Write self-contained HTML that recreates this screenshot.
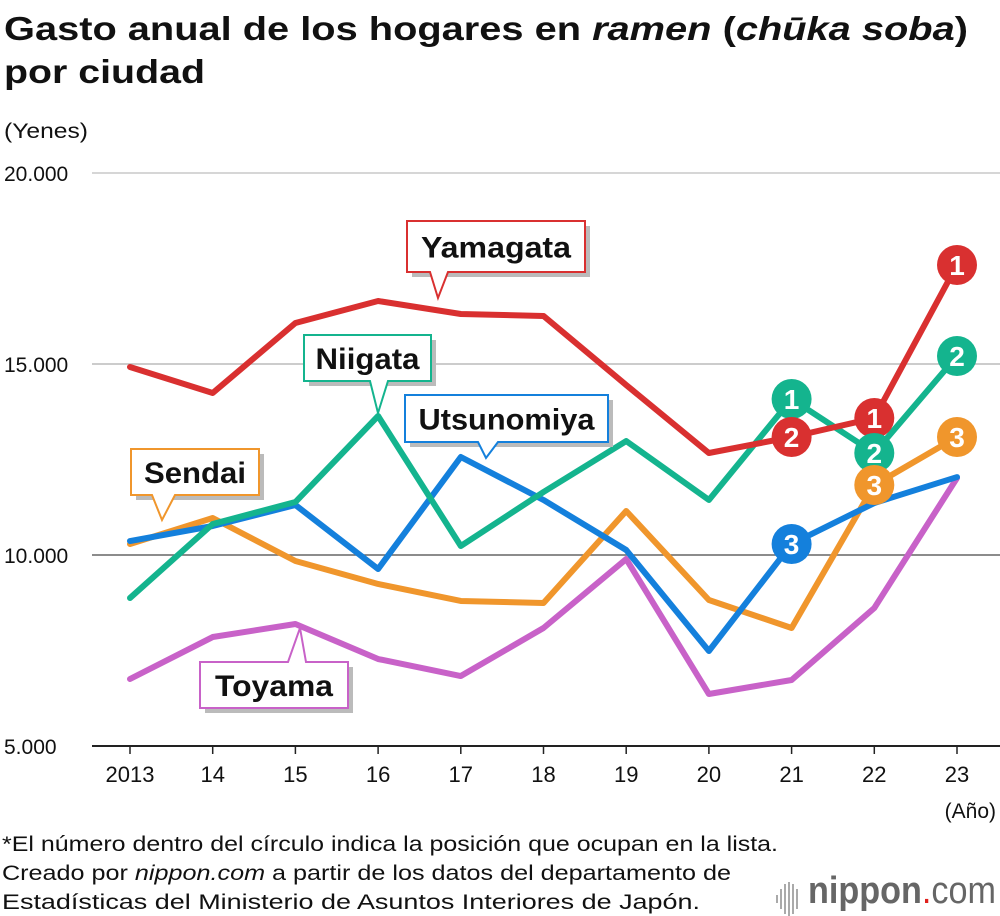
<!DOCTYPE html>
<html><head><meta charset="utf-8">
<style>
body{margin:0;background:#fff;font-family:"Liberation Sans",Arial,sans-serif;}
#wrap{position:relative;width:1000px;height:916px;overflow:hidden;}
</style></head>
<body>
<div id="wrap">
<svg id="chart" width="1000" height="916" xmlns="http://www.w3.org/2000/svg"></svg>
</div>
<script>
const years=["2013","14","15","16","17","18","19","20","21","22","23"];
const yTicks=[20000,15000,10000,5000];
const yTickLabels=["20.000","15.000","10.000","5.000"];
const yamagata=[14921,14241,16073,16649,16309,16257,14450,12670,13089,13586,17592];
const niigata=[8874,10812,11387,13639,10236,11649,12984,11440,14084,12670,15209];
const utsunomiya=[10366,10759,11309,9634,12565,11440,10131,7487,10288,11361,12040];
const sendai=[10288,10969,9843,9241,8796,8743,11152,8822,8089,11832,13089];
const toyama=[6754,7853,8194,7277,6832,8089,9895,6361,6728,8613,12016];
const ranks2021=[["niigata",1],["yamagata",2],["utsunomiya",3]];
const ranks2022=[["yamagata",1],["niigata",2],["sendai",3]];
const ranks2023=[["yamagata",1],["niigata",2],["sendai",3]];

const NS="http://www.w3.org/2000/svg";
const svg=document.getElementById('chart');
const x=i=>130+i*82.7;
const y=v=>173+(20000-v)/1000*38.2;
function mk(tag,attrs,parent){const e=document.createElementNS(NS,tag);for(const k in attrs)e.setAttribute(k,attrs[k]);(parent||svg).appendChild(e);return e;}
function txt(s,attrs,parent){const e=mk('text',attrs,parent);e.textContent=s;return e;}

// title
const t1=txt('',{x:4,y:40,'font-size':33,'font-weight':'bold',fill:'#111',textLength:964,lengthAdjust:'spacingAndGlyphs'});


t1.innerHTML='Gasto anual de los hogares en <tspan font-style="italic">ramen</tspan> (<tspan font-style="italic">chūka soba</tspan>)';
const t2=txt('por ciudad',{x:4,y:83,'font-size':33,'font-weight':'bold',fill:'#111',textLength:201,lengthAdjust:'spacingAndGlyphs'});


const yu=txt('(Yenes)',{x:4,y:138,'font-size':21,fill:'#111',textLength:84,lengthAdjust:'spacingAndGlyphs'});



// grid
const gridColors=['#c8c8c8','#bbbbbb','#666','#222'];
yTicks.forEach((v,i)=>{
  const l=mk('line',{x1:92,x2:1000,y1:y(v),y2:y(v),stroke:gridColors[i],'stroke-width':i==3?2:1.5});
  
  
  const tl=txt(yTickLabels[i],{x:4,y:y(v)+8,'font-size':21,fill:'#111'});
  
  
});
years.forEach((yr,i)=>{
  const tk=mk('line',{x1:x(i),x2:x(i),y1:y(5000),y2:y(5000)+8,stroke:'#222','stroke-width':1.5});
  
  
  const tl=txt(yr,{x:x(i),y:782,'font-size':22,fill:'#111','text-anchor':'middle'});
  
  
});
const xu=txt('(Año)',{x:996,y:818,'font-size':21,fill:'#111','text-anchor':'end'});



const series={toyama:[toyama,'#c862c8'],sendai:[sendai,'#f0962c'],utsunomiya:[utsunomiya,'#1480dc'],niigata:[niigata,'#14b48e'],yamagata:[yamagata,'#d93030']};
for(const k in series){
  const [d,c]=series[k];
  const p=mk('polyline',{points:d.map((v,i)=>x(i)+','+y(v)).join(' '),fill:'none',stroke:c,'stroke-width':6,'stroke-linejoin':'round','stroke-linecap':'round'});
  
  
}
// callouts
function callout(name,label,c,bx,by,bw,bh,px,py,bxa,bxb,side,tw){
  const g=mk('g',{});
  
  
  mk('rect',{x:bx+5,y:by+5,width:bw,height:bh,fill:'#bbb'},g);
  let pts;
  if(side==='b') pts=`${bx},${by} ${bx+bw},${by} ${bx+bw},${by+bh} ${bxb},${by+bh} ${px},${py} ${bxa},${by+bh} ${bx},${by+bh}`;
  else pts=`${bx},${by} ${bxa},${by} ${px},${py} ${bxb},${by} ${bx+bw},${by} ${bx+bw},${by+bh} ${bx},${by+bh}`;
  mk('polygon',{points:pts,fill:'#fff',stroke:c,'stroke-width':2},g);
  txt(label,{x:bx+bw/2,y:by+bh/2+11,'font-size':30,'font-weight':'bold',fill:'#111','text-anchor':'middle',textLength:tw,lengthAdjust:'spacingAndGlyphs'},g);
}
callout('yamagata','Yamagata','#d93030',407,221,178,51,438,298,430,448,'b',150);
callout('niigata','Niigata','#14b48e',304,335,127,46,378,413,370,388,'b',104);
callout('utsunomiya','Utsunomiya','#1480dc',405,395,203,47,486,458,478,498,'b',176);
callout('sendai','Sendai','#f0962c',131,449,128,46,162,520,152,175,'b',102);
callout('toyama','Toyama','#c862c8',200,662,148,46,300,628,288,306,'t',118);

// rank circles
function ranks(arr,idx){
  arr.forEach(([k,r])=>{
    const [d,c]=series[k];
    const g=mk('g',{});
    
    
    mk('circle',{cx:x(idx),cy:y(d[idx]),r:20,fill:c},g);
    txt(String(r),{x:x(idx),y:y(d[idx])+10,'font-size':28,'font-weight':'bold',fill:'#fff','text-anchor':'middle'},g);
  });
}
ranks(ranks2021,8);ranks(ranks2022,9);ranks(ranks2023,10);

// footer
const f1=txt('*El número dentro del círculo indica la posición que ocupan en la lista.',{x:2,y:851,'font-size':21,fill:'#111',textLength:776,lengthAdjust:'spacingAndGlyphs'});


const f2=txt('',{x:2,y:880,'font-size':21,fill:'#111',textLength:729,lengthAdjust:'spacingAndGlyphs'});
f2.innerHTML='Creado por <tspan font-style="italic">nippon.com</tspan> a partir de los datos del departamento de';


const f3=txt('Estadísticas del Ministerio de Asuntos Interiores de Japón.',{x:2,y:909,'font-size':21,fill:'#111',textLength:698,lengthAdjust:'spacingAndGlyphs'});


// logo
const lg=mk('g',{});


[[776,895,8],[780,889,20],[784,884,30],[788,882,34],[792,884,30],[796,889,20]].forEach(([lx,ly,h])=>{mk('rect',{x:lx,y:ly,width:2,height:h,fill:'#aaa'},lg);});
const lt=txt('',{x:808,y:903,'font-size':38,fill:'#666',textLength:188,lengthAdjust:'spacingAndGlyphs'},lg);
lt.innerHTML='<tspan font-weight="bold">nippon</tspan><tspan fill="#e0201c">.</tspan>com';
</script>
</body></html>
